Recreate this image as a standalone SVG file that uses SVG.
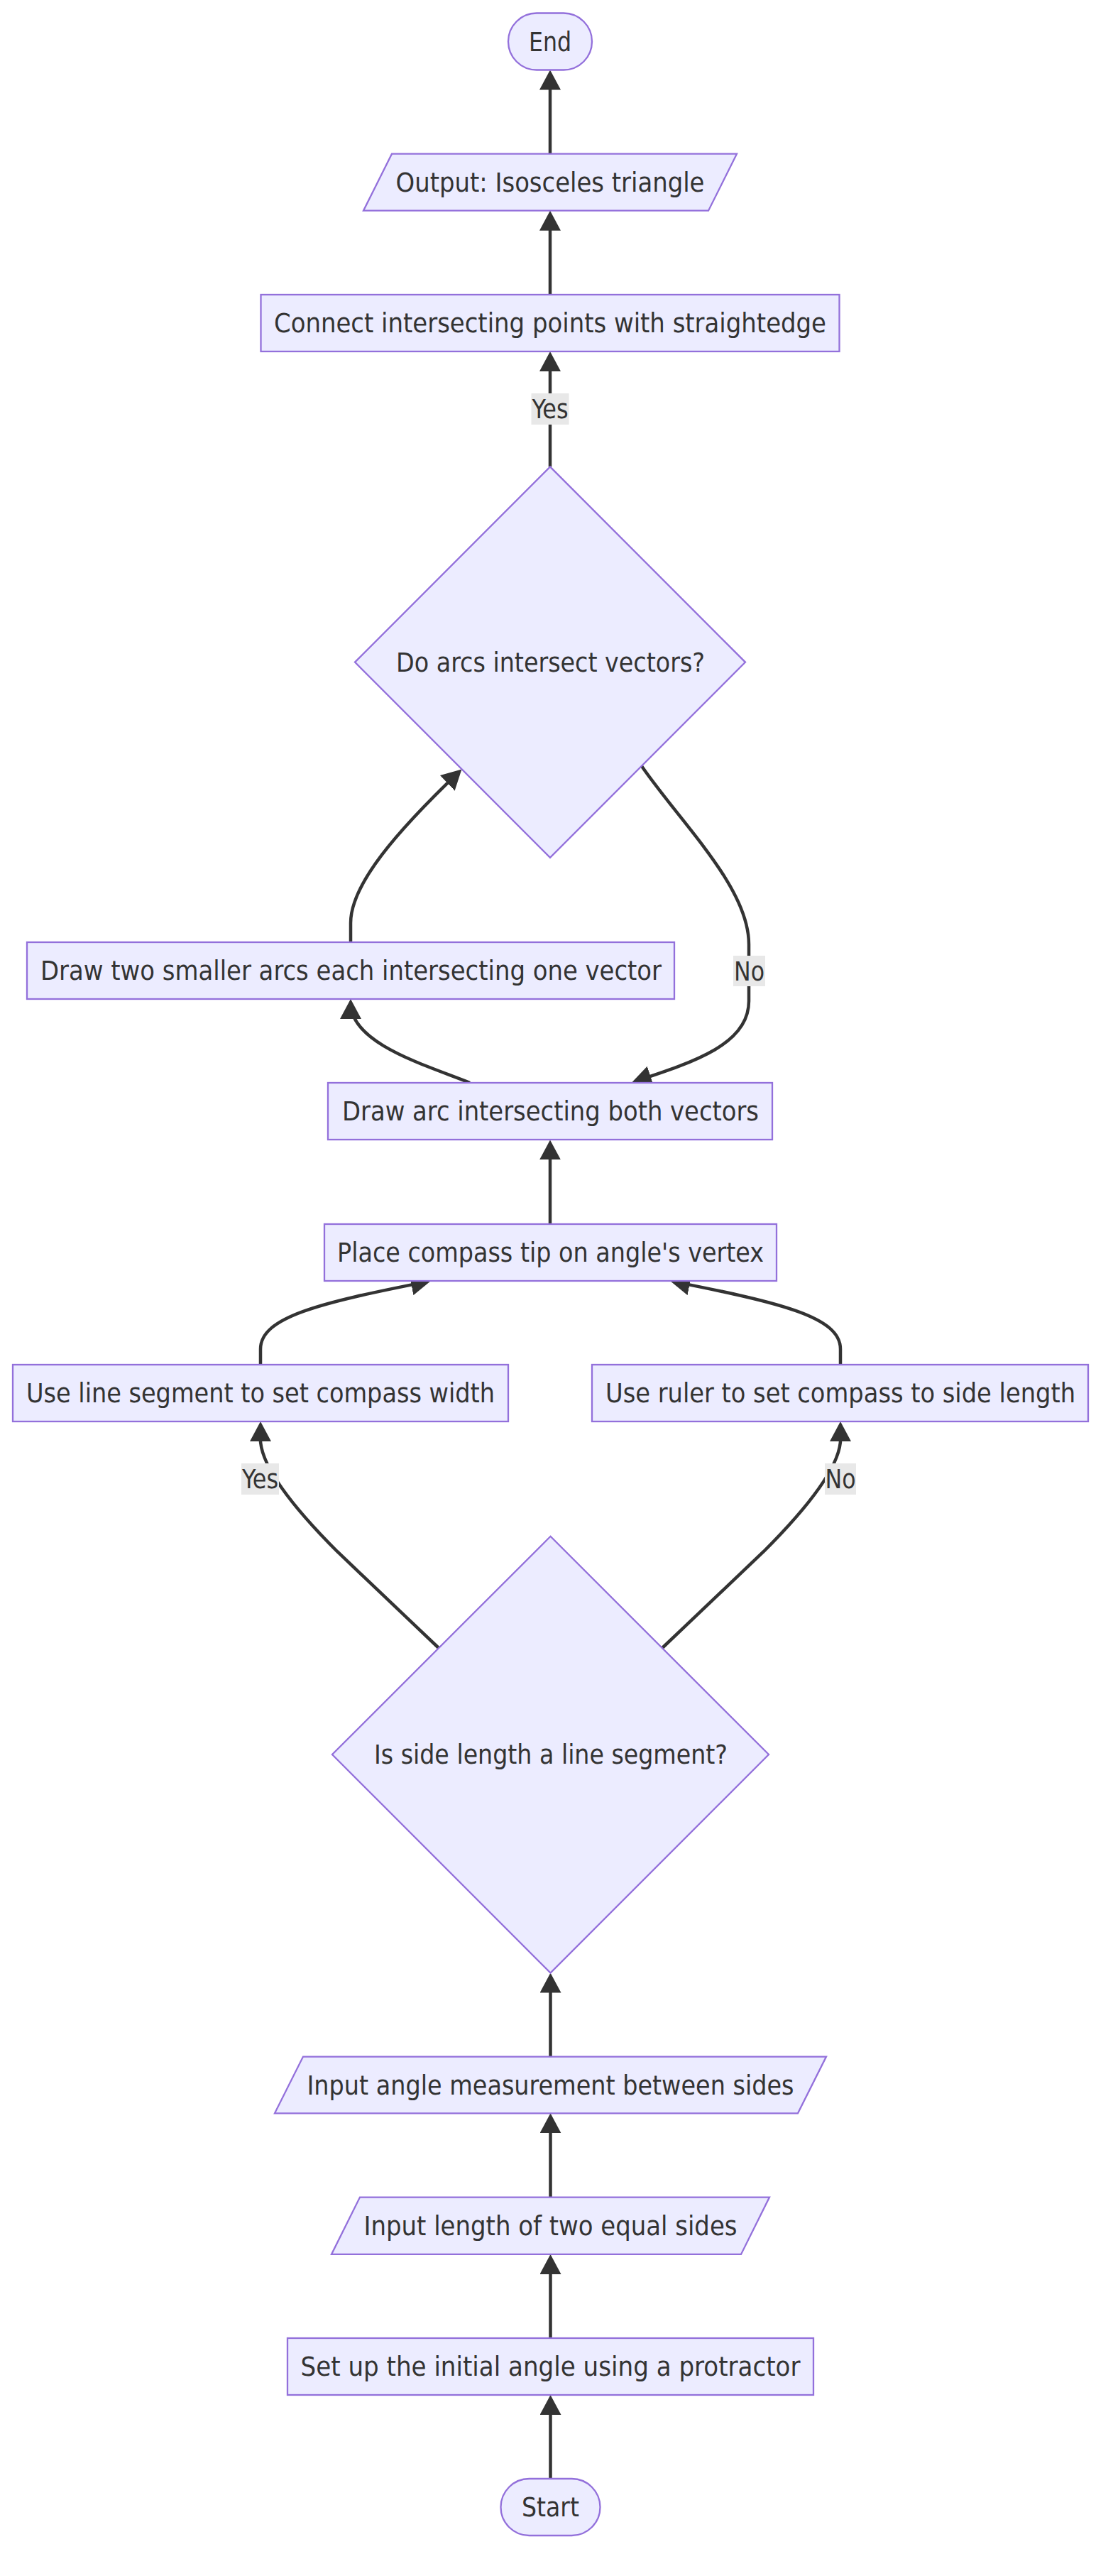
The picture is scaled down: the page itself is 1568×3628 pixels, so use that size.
<svg xmlns="http://www.w3.org/2000/svg" width="1568" height="3628" viewBox="0 0 1568 3628">
<style>
.node{fill:#ECECFF;stroke:#9370DB;stroke-width:2.3}
.t{font-family:"DejaVu Sans Condensed","DejaVu Sans",sans-serif;font-stretch:condensed;font-size:37px;fill:#333333;text-anchor:middle}
.edge{fill:none;stroke:#333333;stroke-width:4.5}
.lbl{fill:#e8e8e8}
</style>
<defs>
<marker id="arrow" viewBox="0 0 10 10" refX="8" refY="5" markerUnits="userSpaceOnUse" markerWidth="28" markerHeight="30" preserveAspectRatio="none" orient="auto">
<path d="M0,0 L10,5 L0,10 z" fill="#333333"/>
</marker>
</defs>
<rect width="1568" height="3628" fill="#ffffff"/>
<g id="connectors">
<path class="edge" marker-end="url(#arrow)" d="M775,216.7 L775,104.1"/>
<path class="edge" marker-end="url(#arrow)" d="M775,415 L775,302.3"/>
<path class="edge" marker-end="url(#arrow)" d="M775,657.4 L775,500.6"/>
<path class="edge" marker-end="url(#arrow)" d="M494,1327 L494,1300 C494,1245 560,1170 646.4,1087.3"/>
<path class="edge" marker-end="url(#arrow)" d="M662,1525 C600,1500 494,1470 494,1412.6"/>
<path class="edge" marker-end="url(#arrow)" d="M904,1079 C960,1160 1055,1250 1055,1330 L1055,1410 C1055,1470 980,1495 895.2,1523"/>
<path class="edge" marker-end="url(#arrow)" d="M775,1724 L775,1611"/>
<path class="edge" marker-end="url(#arrow)" d="M367,1922 L367,1900 C367,1855 450,1835 601.5,1805.1"/>
<path class="edge" marker-end="url(#arrow)" d="M1184,1922 L1184,1900 C1184,1855 1101,1835 949.5,1805.1"/>
<path class="edge" marker-end="url(#arrow)" d="M618,2321 L475,2185 C420,2130 370,2070 367,2030 L367,2007.6"/>
<path class="edge" marker-end="url(#arrow)" d="M933,2321 L1076,2185 C1131,2130 1181,2070 1184,2030 L1184,2007.6"/>
<path class="edge" marker-end="url(#arrow)" d="M775.5,2896.6 L775.5,2784.2"/>
<path class="edge" marker-end="url(#arrow)" d="M775.5,3094.6 L775.5,2981.9"/>
<path class="edge" marker-end="url(#arrow)" d="M775.5,3293 L775.5,3180.5"/>
<path class="edge" marker-end="url(#arrow)" d="M775.5,3491 L775.5,3378.6"/>
</g>
<g id="label-yes-1"><rect class="lbl" x="748.5" y="554" width="53" height="44"/><text class="t" x="775" y="589" textLength="51" lengthAdjust="spacingAndGlyphs">Yes</text></g>
<g id="label-no-1"><rect class="lbl" x="1033" y="1346" width="45" height="43"/><text class="t" x="1055.5" y="1380.5" textLength="43" lengthAdjust="spacingAndGlyphs">No</text></g>
<g id="label-yes-2"><rect class="lbl" x="340" y="2061" width="53" height="44"/><text class="t" x="366.5" y="2096" textLength="51" lengthAdjust="spacingAndGlyphs">Yes</text></g>
<g id="label-no-2"><rect class="lbl" x="1162" y="2061" width="44" height="44"/><text class="t" x="1184" y="2096" textLength="43" lengthAdjust="spacingAndGlyphs">No</text></g>
<g id="end"><rect class="node" x="716" y="18.5" width="118" height="80" rx="40" ry="40"/><text class="t" x="775" y="71.5" textLength="60" lengthAdjust="spacingAndGlyphs">End</text></g>
<g id="output"><polygon class="node" points="552,216.7 1038,216.7 998,296.7 512,296.7"/><text class="t" x="775" y="269.7" textLength="435" lengthAdjust="spacingAndGlyphs">Output: Isosceles triangle</text></g>
<g id="connect"><rect class="node" x="367.5" y="415" width="815" height="80"/><text class="t" x="775" y="468" textLength="778" lengthAdjust="spacingAndGlyphs">Connect intersecting points with straightedge</text></g>
<g id="decision-arcs"><polygon class="node" points="775,657.4 1050,932.6 775,1207.8 500,932.6"/><text class="t" x="775.5" y="946" textLength="435" lengthAdjust="spacingAndGlyphs">Do arcs intersect vectors?</text></g>
<g id="draw-two"><rect class="node" x="38" y="1327" width="912" height="80"/><text class="t" x="494.5" y="1380" textLength="875" lengthAdjust="spacingAndGlyphs">Draw two smaller arcs each intersecting one vector</text></g>
<g id="draw-arc"><rect class="node" x="462" y="1525" width="626" height="80"/><text class="t" x="775.5" y="1578" textLength="587" lengthAdjust="spacingAndGlyphs">Draw arc intersecting both vectors</text></g>
<g id="place-compass"><rect class="node" x="457" y="1724" width="637" height="80"/><text class="t" x="775.5" y="1777" textLength="601" lengthAdjust="spacingAndGlyphs">Place compass tip on angle's vertex</text></g>
<g id="use-line"><rect class="node" x="18" y="1922" width="698" height="80"/><text class="t" x="367" y="1975" textLength="660" lengthAdjust="spacingAndGlyphs">Use line segment to set compass width</text></g>
<g id="use-ruler"><rect class="node" x="834" y="1922" width="699" height="80"/><text class="t" x="1184" y="1975" textLength="662" lengthAdjust="spacingAndGlyphs">Use ruler to set compass to side length</text></g>
<g id="decision-side"><polygon class="node" points="775.5,2163.8 1083,2471 775.5,2778.6 468,2471"/><text class="t" x="776" y="2484" textLength="498" lengthAdjust="spacingAndGlyphs">Is side length a line segment?</text></g>
<g id="input-angle"><polygon class="node" points="427,2896.6 1164,2896.6 1124,2976.3 387,2976.3"/><text class="t" x="775.5" y="2949.5" textLength="686" lengthAdjust="spacingAndGlyphs">Input angle measurement between sides</text></g>
<g id="input-length"><polygon class="node" points="507,3094.6 1084,3094.6 1044,3174.9 467,3174.9"/><text class="t" x="775.5" y="3147.8" textLength="526" lengthAdjust="spacingAndGlyphs">Input length of two equal sides</text></g>
<g id="setup"><rect class="node" x="405" y="3293" width="741" height="80"/><text class="t" x="775.5" y="3346" textLength="704" lengthAdjust="spacingAndGlyphs">Set up the initial angle using a protractor</text></g>
<g id="start"><rect class="node" x="705.5" y="3491" width="140" height="80" rx="40" ry="40"/><text class="t" x="775.5" y="3544" textLength="81" lengthAdjust="spacingAndGlyphs">Start</text></g>
</svg>
